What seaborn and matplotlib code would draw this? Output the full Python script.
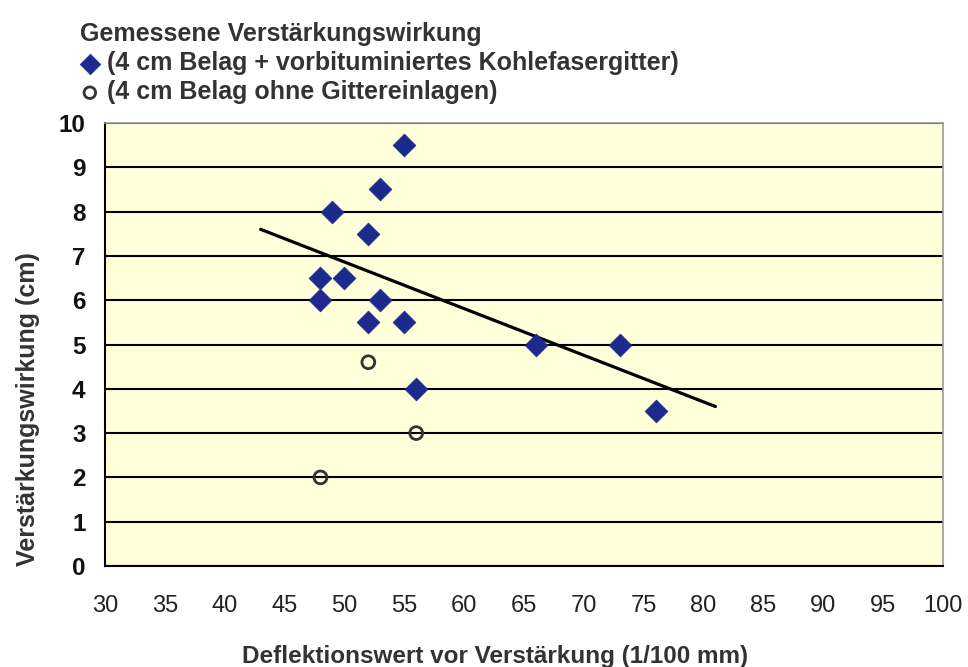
import numpy as np
import pandas as pd
import matplotlib.pyplot as plt
import seaborn as sns

# Messwerte mit Kohlefasergitter
grid_x = [48, 48, 49, 50, 52, 52, 53, 53, 55, 55, 56, 66, 73, 76]
grid_y = [6.5, 6.0, 8.0, 6.5, 7.5, 5.5, 8.5, 6.0, 9.5, 5.5, 4.0, 5.0, 5.0, 3.5]

# Messwerte ohne Gittereinlagen
plain_x = [48, 52, 56]
plain_y = [2.0, 4.6, 3.0]

# Trendlinie (Endpunkte)
trend_x = [43, 81]
trend_y = [7.6, 3.6]

x_ticks = list(range(30, 101, 5))
y_ticks = list(range(0, 11))

label_grid = "(4 cm Belag + vorbituminiertes Kohlefasergitter)"
label_plain = "(4 cm Belag ohne Gittereinlagen)"

sns.set_style("white", {"axes.facecolor": "#FFFFD9"})
plt.rcParams["font.family"] = ["Liberation Sans", "DejaVu Sans"]

fig = plt.figure(figsize=(9.68, 6.67), dpi=100)
ax = fig.add_axes([0.1085, 0.1514, 0.8655, 0.6642])

for y in y_ticks:
    ax.axhline(y, color="black", lw=1.5, zorder=1)

df_grid = pd.DataFrame({"x": grid_x, "y": grid_y})
df_plain = pd.DataFrame({"x": plain_x, "y": plain_y})
df_trend = pd.DataFrame({"x": trend_x, "y": trend_y})

sns.lineplot(data=df_trend, x="x", y="y", color="black", lw=2.3, ax=ax, zorder=2)
sns.scatterplot(data=df_grid, x="x", y="y", marker="D", s=135, color="#1B2A8C",
                edgecolor="#1B2A8C", linewidth=0.5, ax=ax, zorder=3, label=label_grid)
sns.scatterplot(data=df_plain, x="x", y="y", marker="o", s=85, facecolor="none",
                edgecolor="#333333", linewidth=2, ax=ax, zorder=3, label=label_plain)

ax.set_xlim(30, 100)
ax.set_ylim(0, 10)
ax.set_xticks(x_ticks)
ax.set_yticks(y_ticks)
ax.set_xticklabels([str(t) for t in x_ticks], fontsize=17, color="#222222")
ax.set_yticklabels([str(t) for t in y_ticks], fontsize=17.5, fontweight="bold", color="#111111")
ax.tick_params(axis="both", direction="out", length=8, width=1.3, color="black")
ax.tick_params(axis="x", pad=13)
ax.tick_params(axis="y", pad=6)

for side in ["left", "bottom"]:
    ax.spines[side].set_color("black")
    ax.spines[side].set_linewidth(1.5)
for side in ["top", "right"]:
    ax.spines[side].set_color("#999999")
    ax.spines[side].set_linewidth(1.2)
    ax.spines[side].set_linestyle((0, (2, 1)))

ax.set_xlabel("Deflektionswert vor Verstärkung (1/100 mm)", fontsize=17.5,
              fontweight="bold", color="#333333")
ax.set_ylabel("Verstärkungswirkung (cm)", fontsize=18, fontweight="bold",
              color="#333333")
ax.xaxis.set_label_coords(0.465, -0.178)
ax.yaxis.set_label_coords(-0.078, 0.354)

leg = ax.legend(loc="upper left", bbox_to_anchor=(-0.042, 1.25), frameon=False,
                title="Gemessene Verstärkungswirkung", fontsize=18,
                title_fontproperties={"size": 18, "weight": "bold"},
                alignment="left", handletextpad=0.3, handlelength=0.8,
                labelspacing=0.2, borderaxespad=0, markerscale=0.9)
leg.get_title().set_color("#333333")
for t in leg.get_texts():
    t.set_color("#333333")
    t.set_fontweight("bold")

fig.savefig("out.png", dpi=100)
